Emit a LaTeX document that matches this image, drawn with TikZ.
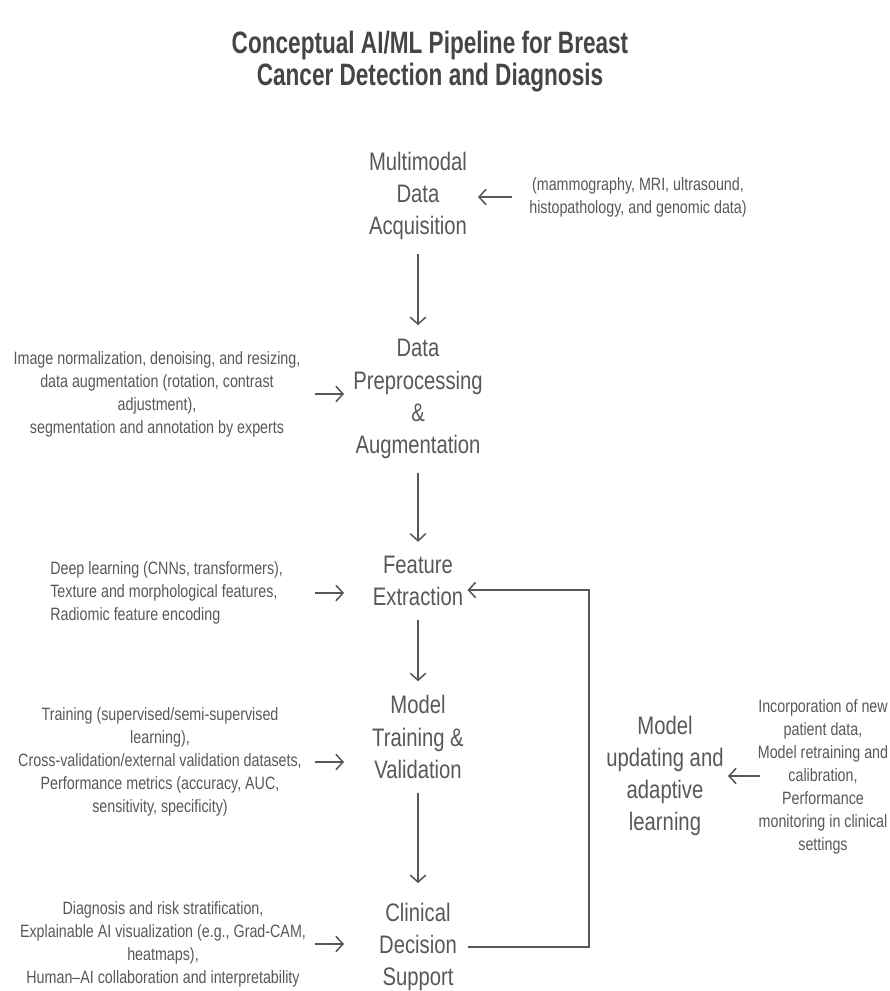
\documentclass[tikz,border=0pt]{standalone}
\usepackage{fontspec}
\setmainfont{Liberation Sans}[FakeStretch=0.8]
\newfontfamily\titlefont{Liberation Sans}[FakeStretch=0.73]
\usetikzlibrary{positioning,calc,arrows.meta}
\definecolor{inkgray}{HTML}{585858}
\definecolor{titlegray}{HTML}{454545}
\tikzset{
    pipeline/.style={
        x=0.025cm, y=-0.025cm,
        % Stile per le fasi della pipeline (solo testo)
        stage/.style={align=center, inner sep=0pt, text=inkgray,
                      font=\fontsize{18}{22.8}\selectfont},
        % Stile per le note descrittive
        note/.style={align=center, inner sep=0pt, text=inkgray,
                     font=\fontsize{12.7}{16.4}\selectfont},
        % Stile per le frecce
        flow/.style={draw=inkgray, line width=1.1pt,
                     -{Straight Barb[length=5pt,width=11pt]}}
    }
}

\begin{document}
\begin{tikzpicture}[pipeline]
        \useasboundingbox (0,0) rectangle (889,991);
        \node[align=center, text=titlegray, font=\titlefont\bfseries\fontsize{22}{22.8}\selectfont]
          (title) at (430,62) {Conceptual AI/ML Pipeline for Breast\\Cancer Detection and Diagnosis};

        % fasi principali
        \node[stage] (acq)   at (418,196) {Multimodal\\Data\\Acquisition};
        \node[stage] (prep)  at (418,399) {Data\\Preprocessing\\\&\\Augmentation};
        \node[stage] (feat)  at (418,581) {Feature\\Extraction};
        \node[stage] (train) at (418,737) {Model\\Training \&\\Validation};
        \node[stage] (clin)  at (418,947) {Clinical\\Decision\\Support};
        \node[stage] (upd)   at (665,776) {Model\\updating and\\adaptive\\learning};

        % note descrittive
        \node[note] (dacq) at (638,197) {(mammography, MRI, ultrasound,\\histopathology, and genomic data)};
        \node[note] (dprep) at (157,394) {Image normalization, denoising, and resizing,\\data augmentation (rotation, contrast\\adjustment),\\segmentation and annotation by experts};
        \node[note, align=left, anchor=west] (dfeat) at (50,593) {Deep learning (CNNs, transformers),\\Texture and morphological features,\\Radiomic feature encoding};
        \node[note] (dtrain) at (160,762) {Training (supervised/semi-supervised\\learning),\\Cross-validation/external validation datasets,\\Performance metrics (accuracy, AUC,\\sensitivity, specificity)};
        \node[note] (dclin) at (163,944) {Diagnosis and risk stratification,\\Explainable AI visualization (e.g., Grad-CAM,\\heatmaps),\\Human--AI collaboration and interpretability};
        \node[note] (dupd) at (823,777) {Incorporation of new\\patient data,\\Model retraining and\\calibration,\\Performance\\monitoring in clinical\\settings};

        % punti di appoggio per le frecce orizzontali
        \coordinate (tailL) at (315,0);
        \coordinate (headL) at (344,0);
        \coordinate (tailR) at (512,0);
        \coordinate (headR) at (478,0);
        \coordinate (tailU) at (760,0);
        \coordinate (headU) at (728,0);

        % frecce verticali
        \draw[flow, shorten <=10pt, shorten >=10pt] (acq) -- (prep);
        \draw[flow, shorten <=10pt, shorten >=10pt] (prep) -- (feat);
        \draw[flow, shorten <=10pt, shorten >=10pt] (feat) -- (train);
        \draw[flow, shorten <=10pt, shorten >=14pt] (train) -- (clin);

        % frecce orizzontali
        \draw[flow] (dacq -| tailR) -- (dacq -| headR);
        \draw[flow] (dprep -| tailL) -- (dprep -| headL);
        \draw[flow] (dfeat -| tailL) -- (dfeat -| headL);
        \draw[flow] (dtrain -| tailL) -- (dtrain -| headL);
        \draw[flow] (dclin -| tailL) -- (dclin -| headL);
        \draw[flow] (upd -| tailU) -- (upd -| headU);

        % ciclo di retroazione
        \coordinate (loop) at (589,590);
        \draw[flow, shorten <=8pt, shorten >=3pt] (clin.east) -| (loop) -- (loop -| feat.east);
    \end{tikzpicture}
\end{document}
